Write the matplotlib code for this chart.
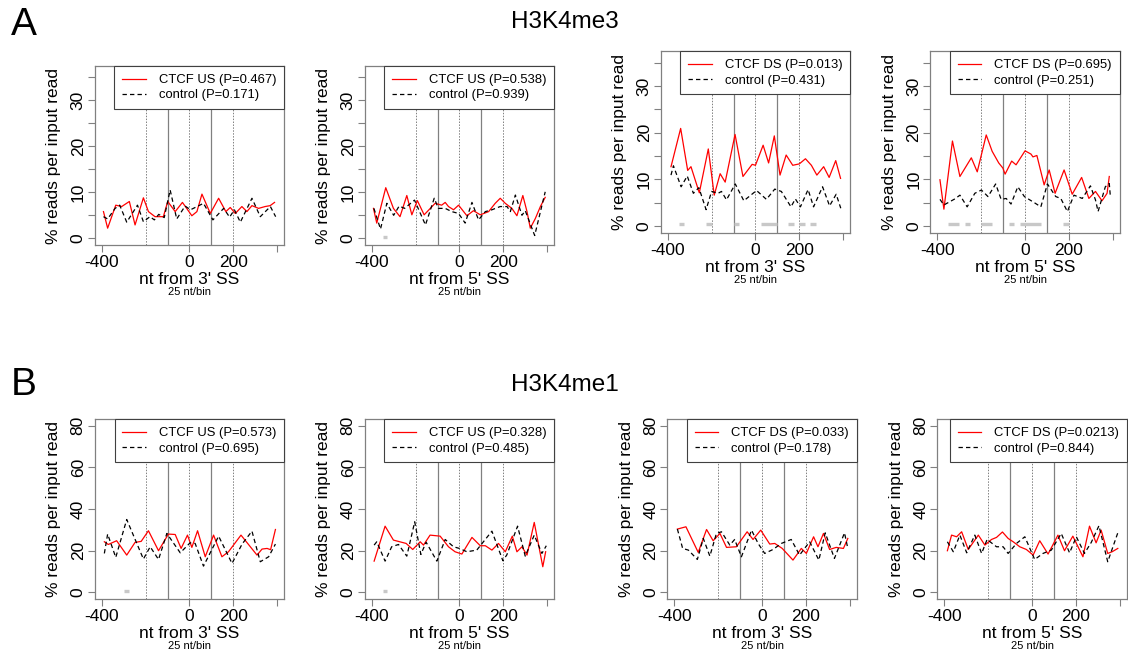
import matplotlib
matplotlib.use('Agg')
import matplotlib.pyplot as plt

plt.rcParams['font.family'] = ['Liberation Sans', 'DejaVu Sans']

# ---- data (nt, % reads per input read) ----
# H3K4me3
p1_red_x = [-392, -373, -336, -309, -274, -248, -210, -187, -157, -119, -99, -65, -32, 11, 34, 57, 95, 133, 166, 186, 209, 239, 262, 285, 315, 345, 368, 388]
p1_red_y = [5.8, 2.2, 7.2, 6.9, 8.0, 2.9, 8.8, 5.8, 4.7, 4.7, 8.0, 5.8, 7.8, 4.9, 5.8, 9.6, 5.4, 8.7, 5.8, 6.7, 5.4, 6.9, 5.8, 7.1, 6.5, 6.9, 7.1, 7.8]
p1_blk_x = [-392, -373, -339, -318, -286, -237, -210, -180, -160, -140, -115, -88, -58, -20, 5, 64, 107, 156, 183, 205, 232, 285, 323, 369, 393]
p1_blk_y = [4.7, 4.2, 6.5, 7.2, 3.5, 7.2, 3.6, 4.7, 4.0, 5.2, 4.5, 10.5, 4.2, 7.0, 6.2, 7.6, 4.0, 6.5, 4.6, 6.2, 3.5, 8.7, 4.7, 6.9, 4.7]

p2_red_x = [-392, -377, -336, -301, -271, -240, -217, -192, -161, -111, -81, -65, -50, -27, -4, 34, 64, 95, 133, 163, 186, 209, 239, 262, 289, 308, 323, 346, 369, 391]
p2_red_y = [6.5, 3.3, 11.0, 6.5, 4.7, 9.3, 5.1, 8.2, 5.1, 7.6, 7.2, 7.8, 6.9, 6.2, 7.2, 4.9, 6.0, 5.1, 5.8, 7.6, 8.7, 7.6, 6.5, 4.9, 9.3, 5.8, 2.2, 4.3, 6.9, 8.9]
p2_blk_x = [-390, -360, -331, -300, -275, -250, -205, -155, -115, -96, -65, -35, -4, 26, 57, 87, 118, 148, 186, 217, 232, 255, 285, 300, 343, 391]
p2_blk_y = [6.5, 2.0, 7.6, 5.0, 7.0, 6.5, 8.3, 2.9, 8.7, 6.5, 6.5, 5.8, 5.4, 3.3, 7.8, 4.0, 5.8, 6.2, 6.9, 6.9, 5.8, 9.4, 5.0, 6.0, 0.6, 10.1]

p3_red_x = [-385, -341, -309, -294, -256, -215, -188, -161, -138, -93, -57, -15, 0, 35, 60, 86, 112, 140, 170, 200, 228, 255, 280, 311, 336, 366, 388]
p3_red_y = [12.7, 20.9, 11.9, 12.7, 7.1, 16.5, 6.6, 11.2, 9.4, 19.6, 10.6, 13.2, 13.0, 17.3, 13.5, 19.3, 10.9, 15.2, 13.0, 13.3, 14.4, 13.0, 10.9, 12.7, 10.4, 14.0, 10.2]
p3_blk_x = [-385, -374, -339, -311, -283, -258, -225, -200, -170, -155, -132, -92, -53, 5, 50, 88, 118, 162, 182, 205, 240, 265, 306, 338, 368, 389]
p3_blk_y = [10.9, 12.9, 8.4, 10.7, 7.0, 8.2, 3.5, 7.4, 7.0, 7.4, 5.6, 9.0, 5.4, 7.6, 5.7, 7.9, 7.4, 4.1, 5.8, 4.1, 7.8, 4.1, 8.4, 4.3, 6.8, 3.8]

p4_red_x = [-388, -370, -331, -297, -245, -218, -177, -150, -120, -101, -91, -61, -41, 0, 27, 36, 54, 87, 110, 137, 178, 215, 258, 291, 321, 351, 374, 384]
p4_red_y = [9.9, 3.6, 18.2, 10.6, 14.6, 11.6, 19.5, 16.0, 13.5, 12.4, 11.1, 13.9, 13.1, 16.1, 15.4, 14.8, 15.1, 8.8, 12.0, 7.0, 12.0, 6.8, 10.4, 5.9, 7.4, 5.4, 7.0, 10.6]
p4_blk_x = [-388, -370, -320, -297, -264, -229, -199, -169, -134, -109, -86, -64, -33, -3, 42, 72, 102, 140, 163, 193, 223, 261, 298, 321, 333, 366, 384, 389]
p4_blk_y = [5.7, 4.5, 5.8, 6.6, 4.1, 7.0, 7.7, 6.3, 9.0, 5.7, 5.9, 4.7, 8.4, 6.3, 5.0, 4.1, 9.0, 6.3, 5.9, 3.1, 6.6, 5.9, 8.6, 5.6, 3.1, 8.4, 9.1, 6.3]

# H3K4me1
p5_red_x = [-388, -370, -332, -286, -248, -220, -187, -141, -96, -65, -38, -9, 11, 37, 72, 110, 148, 178, 235, 308, 331, 354, 370, 392]
p5_red_y = [24.3, 23.0, 24.8, 17.9, 24.0, 24.5, 29.6, 20.0, 28.0, 27.8, 21.1, 27.5, 21.6, 29.6, 17.1, 27.5, 17.1, 19.5, 27.5, 17.9, 20.8, 21.1, 20.5, 30.2]
p5_blk_x = [-388, -373, -336, -286, -210, -179, -141, -103, -42, 3, 26, 64, 133, 194, 240, 285, 323, 361, 392]
p5_blk_y = [18.7, 28.0, 16.8, 35.0, 16.0, 21.9, 15.8, 28.3, 19.0, 23.8, 23.5, 12.6, 27.0, 13.9, 23.2, 29.4, 14.7, 17.1, 23.2]

p6_red_x = [-389, -339, -301, -243, -213, -179, -164, -134, -88, -50, -20, 11, 57, 95, 118, 148, 178, 209, 241, 262, 285, 308, 341, 380, 393]
p6_red_y = [15.0, 31.8, 25.1, 23.5, 20.6, 24.3, 22.7, 27.5, 27.0, 21.9, 19.5, 18.4, 26.4, 22.4, 22.4, 20.3, 23.5, 19.5, 27.0, 19.5, 21.9, 17.9, 33.6, 12.3, 19.5]
p6_blk_x = [-389, -377, -339, -309, -278, -240, -204, -176, -152, -103, -65, -27, 0, 34, 79, 148, 198, 216, 265, 300, 341, 376, 396]
p6_blk_y = [22.7, 24.3, 15.0, 21.9, 23.0, 17.4, 33.9, 18.2, 24.1, 15.0, 25.4, 21.9, 21.1, 19.5, 20.3, 29.4, 15.2, 18.0, 31.8, 17.4, 27.5, 18.7, 22.4]

p7_red_x = [-386, -347, -291, -253, -223, -192, -162, -117, -68, -41, -6, 35, 58, 92, 141, 179, 202, 235, 255, 280, 308, 338, 371, 391]
p7_red_y = [30.4, 31.5, 19.2, 30.2, 24.8, 28.3, 21.6, 21.9, 29.1, 25.4, 29.9, 23.2, 23.5, 21.1, 15.5, 21.1, 18.7, 26.7, 21.9, 28.3, 20.6, 21.6, 21.1, 25.9]
p7_blk_x = [-386, -362, -336, -295, -268, -238, -208, -185, -147, -125, -94, -48, -18, 12, 50, 88, 133, 171, 217, 259, 288, 330, 376, 391]
p7_blk_y = [30.4, 21.1, 20.3, 15.8, 25.9, 17.4, 28.3, 29.1, 22.7, 25.4, 17.1, 29.9, 23.5, 18.7, 20.6, 23.5, 25.4, 17.9, 24.3, 15.5, 28.6, 16.3, 28.6, 21.1]

p8_red_x = [-386, -367, -344, -321, -291, -245, -215, -185, -162, -135, -109, -86, -56, -26, 5, 35, 73, 118, 148, 186, 232, 262, 292, 315, 345, 365, 391]
p8_red_y = [20.0, 27.5, 26.7, 29.1, 20.6, 27.5, 22.7, 25.4, 26.4, 29.0, 25.9, 24.3, 21.9, 20.6, 17.9, 24.8, 18.4, 27.5, 20.0, 27.0, 17.1, 31.8, 23.8, 29.9, 18.7, 19.5, 21.1]
p8_blk_x = [-386, -359, -329, -298, -261, -230, -205, -162, -132, -109, -71, -33, 12, 50, 88, 133, 171, 202, 239, 270, 305, 345, 391]
p8_blk_y = [24.3, 19.5, 27.5, 19.0, 27.5, 18.7, 25.4, 21.9, 21.9, 18.7, 23.5, 26.7, 15.8, 18.7, 20.3, 28.3, 19.0, 26.7, 18.7, 24.0, 32.0, 14.7, 28.6]

# significant bins (grey marks)
p1_bins = []
p2_bins = [(-350, -330)]
p3_bins = [(-350, -325), (-225, -200), (-100, -75), (25, 100), (150, 175), (200, 225), (250, 275)]
p4_bins = [(-350, -300), (-275, -250), (-200, -150), (-75, -50), (-25, 75), (175, 200)]
p5_bins = [(-300, -275)]
p6_bins = [(-350, -330)]
p7_bins = []
p8_bins = []

labels_red = ['CTCF US (P=0.467)', 'CTCF US (P=0.538)', 'CTCF DS (P=0.013)', 'CTCF DS (P=0.695)',
              'CTCF US (P=0.573)', 'CTCF US (P=0.328)', 'CTCF DS (P=0.033)', 'CTCF DS (P=0.0213)']
labels_blk = ['control (P=0.171)', 'control (P=0.939)', 'control (P=0.431)', 'control (P=0.251)',
              'control (P=0.695)', 'control (P=0.485)', 'control (P=0.178)', 'control (P=0.844)']
xlabels = ["nt from 3' SS", "nt from 5' SS", "nt from 3' SS", "nt from 5' SS",
           "nt from 3' SS", "nt from 5' SS", "nt from 3' SS", "nt from 5' SS"]

W, H = 1128, 655
GRAY = '#808080'


def px_axes(fig, left, top, right, bottom):
    return fig.add_axes([left / W, 1 - bottom / H, (right - left) / W, (bottom - top) / H])


def draw_panel(ax, rx, ry, bx, by, bins, lab_r, lab_b, xlab, top_row):
    for v in (-200, 0, 200):
        ax.axvline(v, color=GRAY, lw=0.7, ls=(0, (1.5, 1.5)), zorder=1)
    for v in (-100, 100):
        ax.axvline(v, color=GRAY, lw=0.9, zorder=1)
    ybar = 0.35 if top_row else 0.8
    for a, b in bins:
        ax.plot([a, b], [ybar, ybar], color='#c8c8c8', lw=2.4, solid_capstyle='butt', zorder=2)
    ax.plot(rx, ry, color='red', lw=0.9, label=lab_r, solid_joinstyle='round', zorder=3)
    ax.plot(bx, by, color='black', lw=0.9, dashes=(3.5, 2.5), label=lab_b,
            dash_joinstyle='round', zorder=3)

    ax.set_xlim(-432, 432)
    ax.set_xticks([-400, 0, 200, 400])
    ax.set_xticklabels(['-400', '0', '200', ''])
    if top_row:
        ax.set_ylim(-1.44, 37.44)
        ax.set_yticks(range(0, 36, 5))
        ax.set_yticklabels(['0', '', '10', '', '20', '', '30', ''])
    else:
        ax.set_ylim(-3.2, 83.2)
        ax.set_yticks([0, 20, 40, 60, 80])
    for s in ax.spines.values():
        s.set_color(GRAY)
        s.set_linewidth(0.9)
    ax.tick_params(colors=GRAY, labelcolor='black', length=5, width=0.8, labelsize=12.5)
    ax.tick_params(axis='x', pad=2.5)
    ax.tick_params(axis='y', pad=1.5)
    for t in ax.get_yticklabels():
        t.set_rotation(90)
        t.set_va('center')
    ax.set_xlabel(xlab, fontsize=12.5, labelpad=1.5)
    ax.set_ylabel('% reads per input read', fontsize=12.5, labelpad=7)
    ax.annotate('25 nt/bin', xy=(0.5, 0), xycoords='axes fraction', xytext=(0, -34),
                textcoords='offset points', ha='center', va='center', fontsize=8)
    leg = ax.legend(loc='upper right', borderaxespad=0, fancybox=False, framealpha=1,
                    edgecolor='#404040', fontsize=9.4, handlelength=1.8, handletextpad=1.0,
                    borderpad=0.6, labelspacing=0.25)
    leg.get_frame().set_linewidth(0.8)
    leg.set_zorder(5)


fig = plt.figure(figsize=(W / 100, H / 100), dpi=100)

boxes = [(94.7, 66.1, 284.2, 244.9), (364.7, 66.1, 554.2, 244.9),
         (660.7, 51.2, 850.2, 232.7), (930.3, 51.2, 1119.8, 232.7),
         (94.7, 419.2, 284.2, 599), (364.7, 419.2, 554.2, 599),
         (667.3, 419.2, 856.8, 599), (937.3, 419.2, 1126.8, 599)]
reds = [(p1_red_x, p1_red_y), (p2_red_x, p2_red_y), (p3_red_x, p3_red_y), (p4_red_x, p4_red_y),
        (p5_red_x, p5_red_y), (p6_red_x, p6_red_y), (p7_red_x, p7_red_y), (p8_red_x, p8_red_y)]
blks = [(p1_blk_x, p1_blk_y), (p2_blk_x, p2_blk_y), (p3_blk_x, p3_blk_y), (p4_blk_x, p4_blk_y),
        (p5_blk_x, p5_blk_y), (p6_blk_x, p6_blk_y), (p7_blk_x, p7_blk_y), (p8_blk_x, p8_blk_y)]
bins_all = [p1_bins, p2_bins, p3_bins, p4_bins, p5_bins, p6_bins, p7_bins, p8_bins]

for i in range(8):
    ax = px_axes(fig, *boxes[i])
    draw_panel(ax, reds[i][0], reds[i][1], blks[i][0], blks[i][1], bins_all[i],
               labels_red[i], labels_blk[i], xlabels[i], i < 4)

fig.text(565 / W, 1 - 22 / H, 'H3K4me3', ha='center', va='center', fontsize=17.5)
fig.text(565 / W, 1 - 385 / H, 'H3K4me1', ha='center', va='center', fontsize=17.5)
fig.text(24 / W, 1 - 25 / H, 'A', ha='center', va='center', fontsize=28)
fig.text(24 / W, 1 - 385 / H, 'B', ha='center', va='center', fontsize=28)

fig.savefig('out.png', dpi=100)
